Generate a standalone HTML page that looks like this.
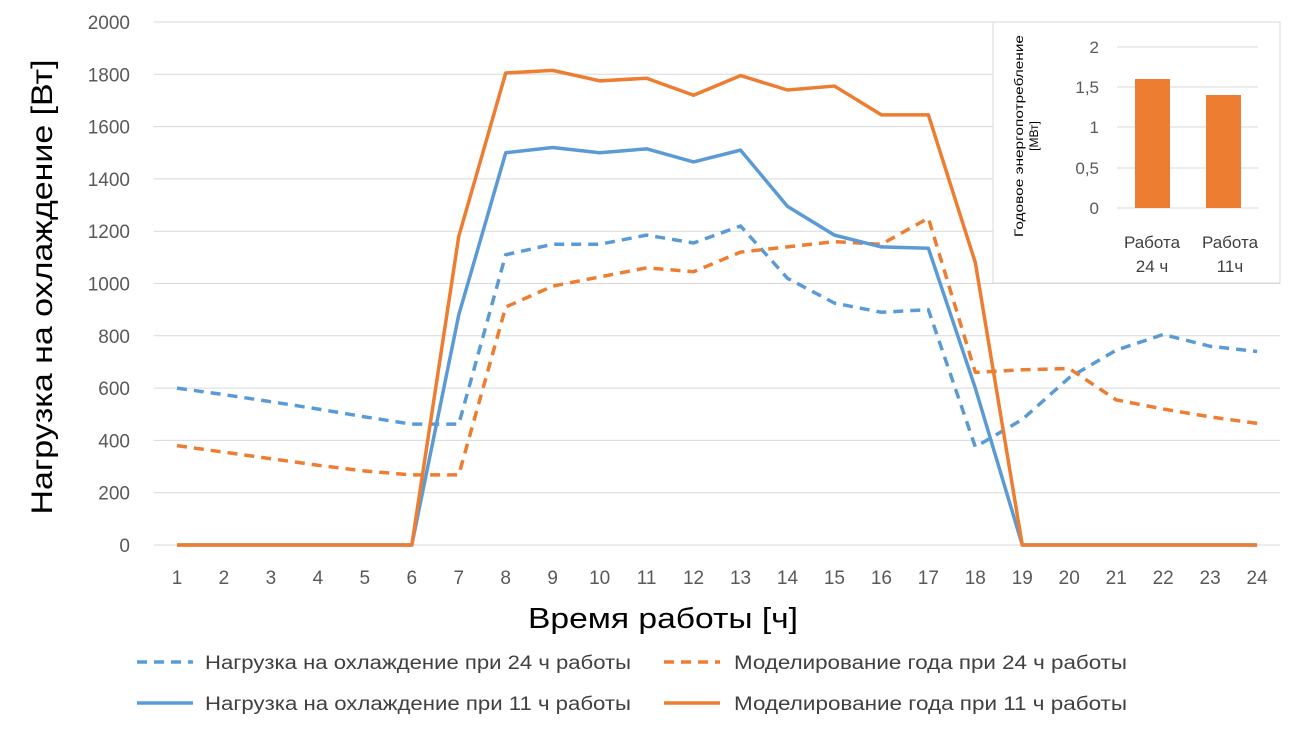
<!DOCTYPE html>
<html><head><meta charset="utf-8"><style>
body{margin:0;background:#fff}
svg{display:block;font-family:"Liberation Sans","DejaVu Sans",sans-serif}
</style></head><body>
<svg id="s" width="1312" height="734" viewBox="0 0 1312 734" xmlns="http://www.w3.org/2000/svg">
<g id="grid" stroke="#d9d9d9" stroke-width="1"></g>
<g id="ylab" fill="#595959" font-size="19" text-anchor="end"></g>
<g id="xlab" fill="#595959" font-size="19" text-anchor="middle"></g>
<g id="lines" fill="none" stroke-width="3.5" stroke-linejoin="round"></g>
<text x="0" y="0" transform="translate(52,287) rotate(-90)" font-size="30" text-anchor="middle" fill="#000" textLength="455" lengthAdjust="spacingAndGlyphs">Нагрузка на охлаждение [Вт]</text>
<text x="663" y="628" font-size="29" text-anchor="middle" fill="#000" textLength="270" lengthAdjust="spacingAndGlyphs">Время работы [ч]</text>
<g font-size="19" fill="#404040">
<line x1="137" y1="662" x2="193" y2="662" stroke="#5b9bd5" stroke-width="3.5" stroke-dasharray="10,7"/>
<text x="205" y="669" textLength="426" lengthAdjust="spacingAndGlyphs">Нагрузка на охлаждение при 24 ч работы</text>
<line x1="664" y1="662" x2="720" y2="662" stroke="#ed7d31" stroke-width="3.5" stroke-dasharray="10,7"/>
<text x="734" y="669" textLength="393" lengthAdjust="spacingAndGlyphs">Моделирование года при 24 ч работы</text>
<line x1="137" y1="703" x2="193" y2="703" stroke="#5b9bd5" stroke-width="3.5"/>
<text x="205" y="710" textLength="426" lengthAdjust="spacingAndGlyphs">Нагрузка на охлаждение при 11 ч работы</text>
<line x1="664" y1="703" x2="720" y2="703" stroke="#ed7d31" stroke-width="3.5"/>
<text x="734" y="710" textLength="393" lengthAdjust="spacingAndGlyphs">Моделирование года при 11 ч работы</text>
</g>
<rect x="993" y="22" width="287" height="261" fill="#fff" stroke="#d9d9d9" stroke-width="1"/>
<g stroke="#d9d9d9" stroke-width="1">
<line x1="1117" y1="47" x2="1258" y2="47"/><line x1="1117" y1="87" x2="1258" y2="87"/>
<line x1="1117" y1="127" x2="1258" y2="127"/><line x1="1117" y1="168" x2="1258" y2="168"/>
<line x1="1117" y1="208" x2="1258" y2="208"/></g>
<g font-size="17" fill="#595959" text-anchor="end">
<text x="1099" y="53">2</text><text x="1099" y="93">1,5</text><text x="1099" y="133">1</text><text x="1099" y="174">0,5</text><text x="1099" y="214">0</text></g>
<rect x="1135" y="79" width="35" height="129" fill="#ed7d31"/>
<rect x="1206" y="95" width="35" height="113" fill="#ed7d31"/>
<g font-size="17" fill="#404040" text-anchor="middle">
<text x="1152" y="248">Работа</text><text x="1152" y="272">24 ч</text>
<text x="1230" y="248">Работа</text><text x="1230" y="272">11ч</text></g>
<g font-size="12" fill="#000" text-anchor="middle" transform="translate(1027,136) rotate(-90)">
<text x="0" y="-4" textLength="202" lengthAdjust="spacingAndGlyphs">Годовое энергопотребление</text><text x="0" y="11">[МВт]</text></g>
</svg>
<script>
const X=i=>177+(i-1)*46.96, Y=v=>545-v*0.2615, NS="http://www.w3.org/2000/svg";
const mk=(p,t,a)=>{const e=document.createElementNS(NS,t);for(const k in a)e.setAttribute(k,a[k]);document.getElementById(p).appendChild(e);return e;};
for(let v=0;v<=2000;v+=200){mk("grid","line",{x1:154,x2:1280,y1:Y(v),y2:Y(v)});mk("ylab","text",{x:130,y:Y(v)+7}).textContent=v;}
for(let i=1;i<=24;i++)mk("xlab","text",{x:X(i),y:584}).textContent=i;
const S=[
["#5b9bd5","10,7",[600,575,548,520,490,462,462,1110,1150,1150,1185,1155,1220,1020,925,890,900,375,480,640,745,805,760,740]],
["#ed7d31","10,7",[380,355,330,305,283,268,268,910,990,1025,1060,1045,1120,1140,1160,1150,1250,660,670,675,555,520,490,465]],
["#5b9bd5","",[0,0,0,0,0,0,880,1500,1520,1500,1515,1465,1510,1295,1185,1140,1135,600,0,0,0,0,0,0]],
["#ed7d31","",[0,0,0,0,0,0,1180,1805,1815,1775,1785,1720,1795,1740,1755,1645,1645,1080,0,0,0,0,0,0]]];
S.forEach(([c,d,v])=>{const a={points:v.map((y,i)=>X(i+1)+","+Y(y)).join(" "),stroke:c};if(d)a["stroke-dasharray"]=d;mk("lines","polyline",a);});
</script>
</body></html>
